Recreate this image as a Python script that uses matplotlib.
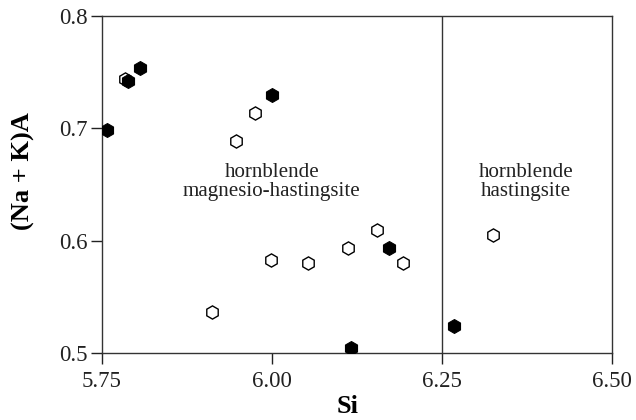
import matplotlib
matplotlib.use("Agg")
import matplotlib.pyplot as plt

plt.rcParams['font.family'] = ['Liberation Serif', 'DejaVu Serif']

# open symbols
open_si = [5.784, 5.948, 5.975, 5.912, 5.999, 6.053, 6.112, 6.154, 6.193, 6.326]
open_naka = [0.744, 0.689, 0.714, 0.536, 0.583, 0.580, 0.593, 0.609, 0.580, 0.605]
# filled symbols
fill_si = [5.757, 5.788, 5.806, 6.000, 6.172, 6.117, 6.268]
fill_naka = [0.698, 0.742, 0.754, 0.730, 0.593, 0.504, 0.524]

x_ticks = [5.75, 6.00, 6.25, 6.50]
x_ticklabels = ["5.75", "6.00", "6.25", "6.50"]
y_ticks = [0.5, 0.6, 0.7, 0.8]
y_ticklabels = ["0.5", "0.6", "0.7", "0.8"]
boundary_si = 6.25

fig = plt.figure(figsize=(6.36, 4.2), dpi=100)
ax = fig.add_axes([0.160, 0.160, 0.802, 0.802])

ax.plot(open_si, open_naka, linestyle='none', marker='h', markersize=9.5,
        markerfacecolor='white', markeredgecolor='black', markeredgewidth=1.0, zorder=3)
ax.plot(fill_si, fill_naka, linestyle='none', marker='h', markersize=10,
        markerfacecolor='black', markeredgecolor='black', markeredgewidth=0.8, zorder=4)

ax.axvline(boundary_si, color='#333333', linewidth=1.0, zorder=1)

ax.set_xlim(5.75, 6.50)
ax.set_ylim(0.5, 0.8)
ax.set_xticks(x_ticks)
ax.set_xticklabels(x_ticklabels)
ax.set_yticks(y_ticks)
ax.set_yticklabels(y_ticklabels)
ax.tick_params(direction='out', length=8, width=1.0, labelsize=16.5, colors='#222222')
ax.tick_params(axis='x', pad=5)
ax.tick_params(axis='y', pad=2)
for sp in ax.spines.values():
    sp.set_linewidth(1.0)
    sp.set_color('#333333')

ax.set_xlabel("Si", fontsize=19, fontweight='bold')
ax.xaxis.set_label_coords(0.482, -0.125)
ax.set_ylabel("(Na + K)A", fontsize=19, fontweight='bold')
ax.yaxis.set_label_coords(-0.13, 0.54)

ax.text(6.0, 0.652, "hornblende\nmagnesio-hastingsite", ha='center', va='center',
        fontsize=15.1, linespacing=1.0, color='#222222')
ax.text(6.3735, 0.652, "hornblende\nhastingsite", ha='center', va='center',
        fontsize=15.1, linespacing=1.0, color='#222222')

fig.savefig("out.png", dpi=100)
